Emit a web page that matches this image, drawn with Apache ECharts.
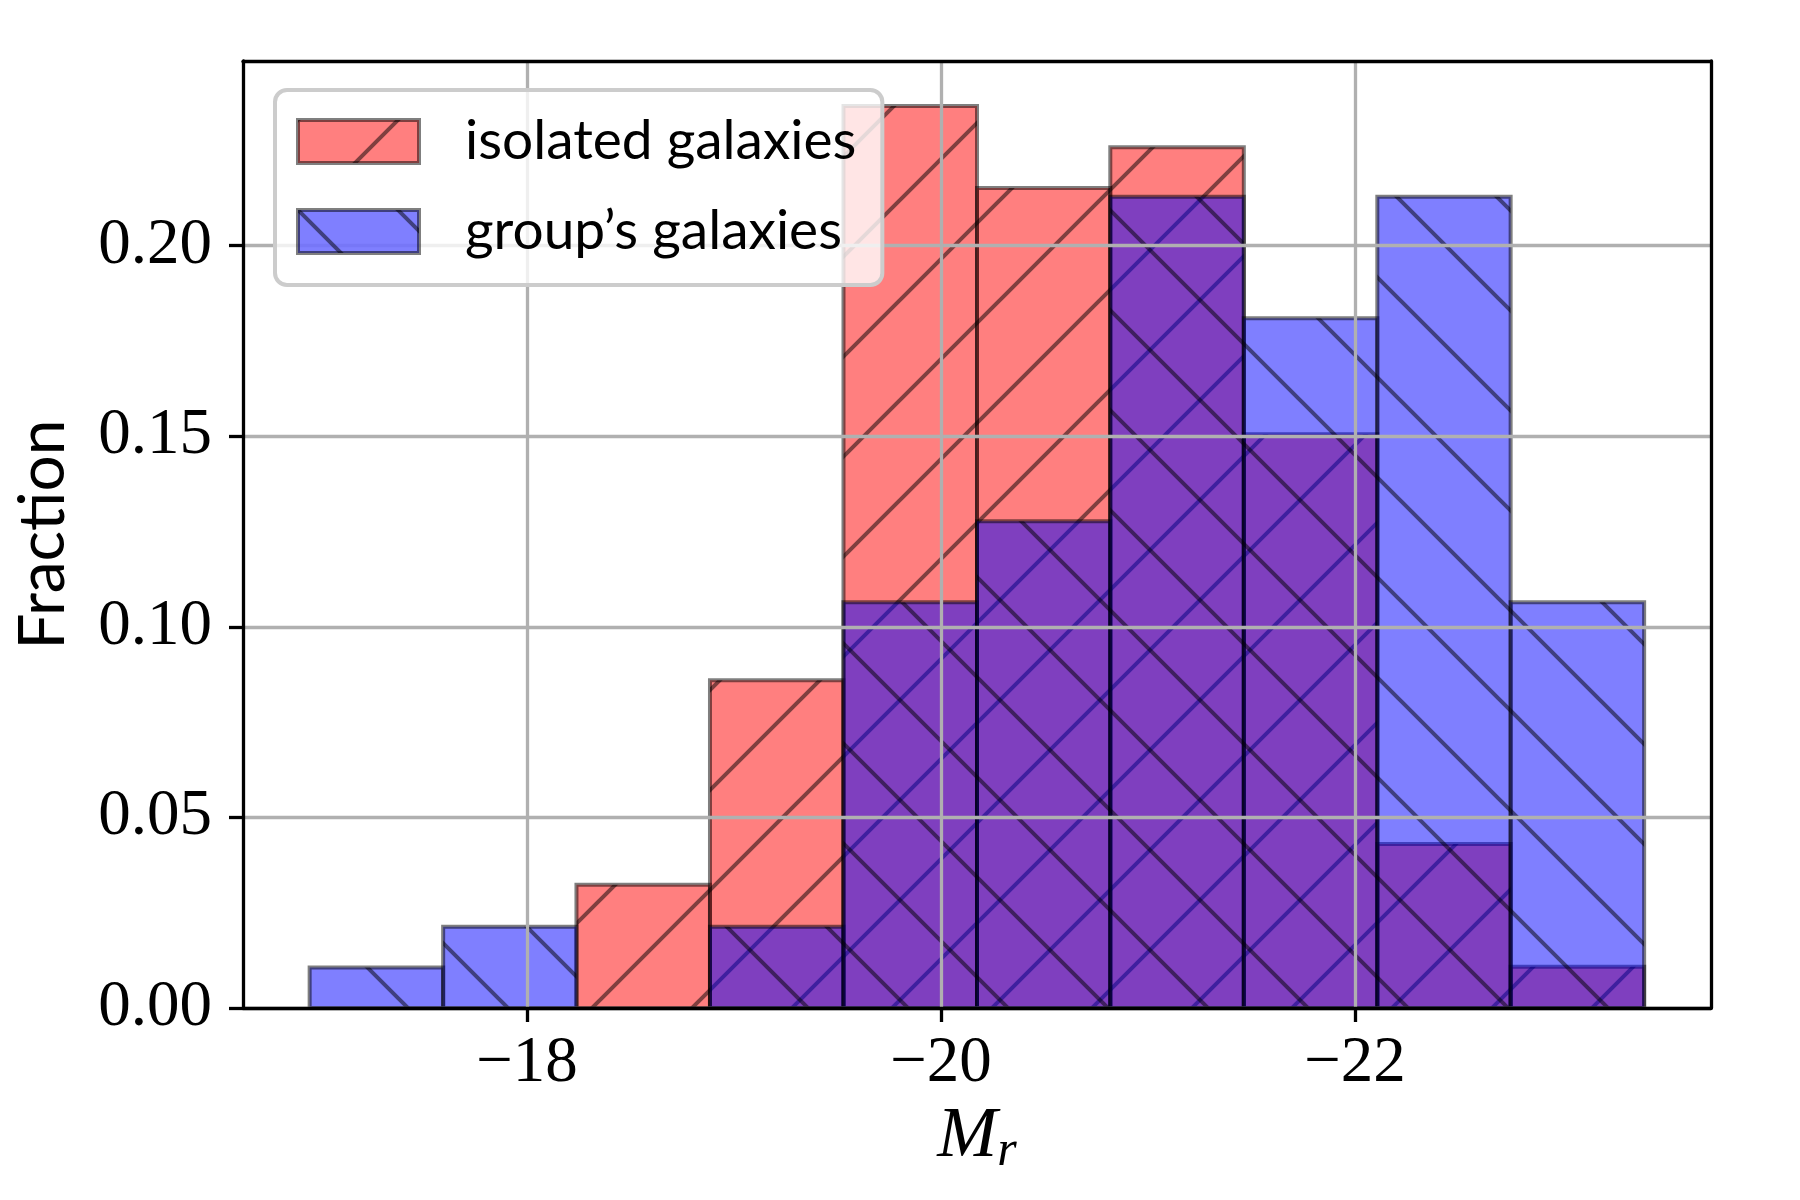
<!DOCTYPE html>
<html>
<head>
<meta charset="utf-8">
<title>Fraction vs M_r</title>
<script src="https://cdn.jsdelivr.net/npm/echarts@6.0.0/dist/echarts.min.js"></script>
<style>
html, body { margin: 0; padding: 0; background: #fff; }
#main { width: 1800px; height: 1200px; }
</style>
</head>
<body>
<div id="main"></div>
<script>
// histogram bins in M_r (same for both samples)
var binEdges = [-16.95, -17.595, -18.239, -18.884, -19.529, -20.174, -20.818, -21.463, -22.108, -22.752, -23.397];
var isolatedFrac = [0, 0, 0.0323, 0.0860, 0.2366, 0.2151, 0.2258, 0.1505, 0.0430, 0.0108];
var groupFrac = [0.0106, 0.0213, 0, 0.0213, 0.1064, 0.1277, 0.2128, 0.1809, 0.2128, 0.1064];
var xTicks = [-18, -20, -22];
var yTicks = [0, 0.05, 0.10, 0.15, 0.20];
var seriesNames = ['isolated galaxies', 'group\u2019s galaxies'];

// hatch tile, 100px, anchored to canvas origin like matplotlib
function hatch(fill, dir) {
	var c = document.createElement('canvas');
	c.width = 100;
	c.height = 100;
	var g = c.getContext('2d');
	g.fillStyle = fill;
	g.fillRect(0, 0, 100, 100);
	g.strokeStyle = 'rgba(0,0,0,0.5)';
	g.lineWidth = 4;
	g.beginPath();
	for (var k = -1; k <= 1; k++) {
		if (dir === '/') {
			g.moveTo(-10, 110 + 100 * k);
			g.lineTo(110, -10 + 100 * k);
		} else {
			g.moveTo(-10, -10 - 100 * k);
			g.lineTo(110, 110 - 100 * k);
		}
	}
	g.stroke();
	return { image: c, repeat: 'repeat' };
}

var redFill = hatch('rgba(255,0,0,0.5)', '/');
var blueFill = hatch('rgba(0,0,255,0.5)', '\\');

function makeSeries(name, values, pattern) {
	var data = [];
	for (var i = 0; i < values.length; i++) {
		if (values[i] > 0) data.push([binEdges[i], binEdges[i + 1], values[i]]);
	}
	return {
		name: name,
		type: 'custom',
		xAxisIndex: 0,
		yAxisIndex: 0,
		data: data,
		encode: { x: [0, 1], y: 2 },
		renderItem: function (params, api) {
			var p0 = api.coord([api.value(0), api.value(2)]);
			var p1 = api.coord([api.value(1), 0]);
			return {
				type: 'rect',
				shape: {
					x: Math.min(p0[0], p1[0]),
					y: p0[1],
					width: Math.abs(p1[0] - p0[0]),
					height: p1[1] - p0[1]
				},
				style: { fill: pattern, stroke: 'rgba(0,0,0,0.5)', lineWidth: 4 }
			};
		}
	};
}

var serifFont = 'Liberation Serif';
var frameLine = { show: true, onZero: false, lineStyle: { color: '#000', width: 3.3 } };

var option = {
	animation: false,
	backgroundColor: '#fff',
	grid: { left: 243, top: 61, right: 89, bottom: 192, containLabel: false, outerBoundsMode: 'none' },
	legend: {
		orient: 'vertical',
		left: 275,
		top: 90,
		padding: [24, 26, 26, 21],
		itemWidth: 121,
		itemHeight: 43,
		itemGap: 35,
		backgroundColor: 'rgba(255,255,255,0.8)',
		borderColor: '#cccccc',
		borderWidth: 4,
		borderRadius: 12,
		textStyle: { fontFamily: 'Lato', fontSize: 55, lineHeight: 55, color: '#000', padding: [0, 0, 0, 41] },
		data: [
			{ name: seriesNames[0], icon: 'rect', itemStyle: { color: redFill, borderColor: 'rgba(0,0,0,0.5)', borderWidth: 4 } },
			{ name: seriesNames[1], icon: 'rect', itemStyle: { color: blueFill, borderColor: 'rgba(0,0,0,0.5)', borderWidth: 4 } }
		]
	},
	xAxis: [{
		type: 'value',
		inverse: true,
		min: -23.72,
		max: -16.628,
		z: 3,
		axisLine: frameLine,
		axisTick: { show: true, inside: false, length: 14, lineStyle: { color: '#000', width: 3.3 }, customValues: xTicks },
		axisLabel: {
			customValues: xTicks,
			margin: 23,
			color: '#000',
			fontFamily: serifFont,
			fontSize: 65,
			formatter: function (v) { return '\u2212' + Math.abs(v); }
		},
		splitLine: { show: true, lineStyle: { color: '#b0b0b0', width: 3.3 } },
		name: '{m|M}{s|r}',
		nameLocation: 'middle',
		nameGap: 82,
		nameTextStyle: {
			rich: {
				m: { fontFamily: serifFont, fontStyle: 'italic', fontSize: 72, lineHeight: 72, verticalAlign: 'top', color: '#000' },
				s: { fontFamily: serifFont, fontStyle: 'italic', fontSize: 50, lineHeight: 76, verticalAlign: 'bottom', color: '#000' }
			}
		}
	}, {
		type: 'value',
		position: 'top',
		inverse: true,
		min: -23.72,
		max: -16.628,
		z: 3,
		axisLine: frameLine,
		axisTick: { show: false },
		axisLabel: { show: false },
		splitLine: { show: false }
	}],
	yAxis: [{
		type: 'value',
		min: 0,
		max: 0.2484,
		z: 3,
		axisLine: frameLine,
		axisTick: { show: true, inside: false, length: 14, lineStyle: { color: '#000', width: 3.3 }, customValues: yTicks },
		axisLabel: {
			customValues: yTicks,
			margin: 31,
			color: '#000',
			fontFamily: serifFont,
			fontSize: 65,
			formatter: function (v) { return v.toFixed(2); }
		},
		splitLine: { show: true, lineStyle: { color: '#b0b0b0', width: 3.3 } },
		name: 'Fraction',
		nameLocation: 'middle',
		nameGap: 168,
		nameTextStyle: { fontFamily: 'Lato', fontSize: 64, lineHeight: 64, color: '#000' }
	}, {
		type: 'value',
		position: 'right',
		min: 0,
		max: 0.2484,
		z: 3,
		axisLine: frameLine,
		axisTick: { show: false },
		axisLabel: { show: false },
		splitLine: { show: false }
	}],
	series: [
		makeSeries(seriesNames[0], isolatedFrac, redFill),
		makeSeries(seriesNames[1], groupFrac, blueFill)
	]
};

var myChart = echarts.init(document.getElementById('main'));
myChart.setOption(option);
</script>
</body>
</html>
